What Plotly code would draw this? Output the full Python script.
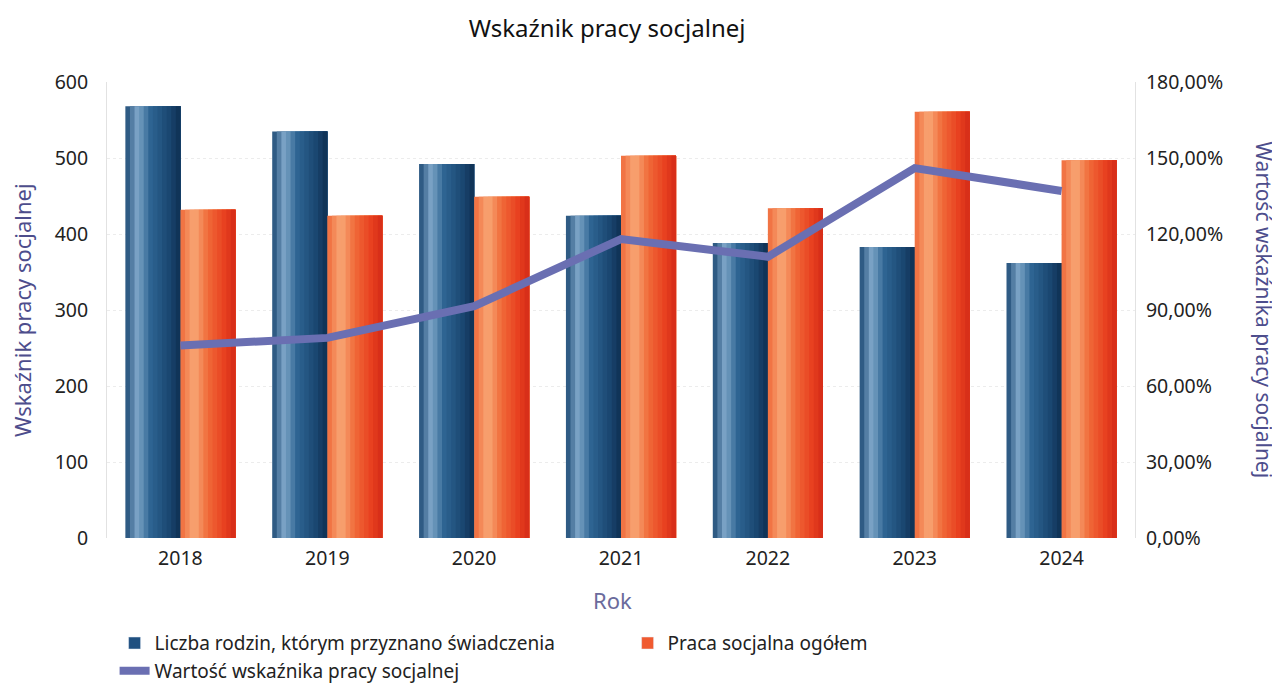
import plotly.graph_objects as go

years = ["2018", "2019", "2020", "2021", "2022", "2023", "2024"]
families = [568, 535, 492, 424, 388, 383, 362]
social_work = [432, 424, 449, 503, 434, 561, 497]
indicator = [0.76, 0.79, 0.915, 1.18, 1.11, 1.46, 1.37]

name_families = "Liczba rodzin, którym przyznano świadczenia"
name_work = "Praca socjalna ogółem"
name_indicator = "Wartość wskaźnika pracy socjalnej"

FONT = "Noto Sans"
N_STRIPS = 12
BAR_W = 0.375
TITLE_COLOR = "#4d4d8c"


def hex_to_rgb(h):
    h = h.lstrip("#")
    return [int(h[i:i + 2], 16) for i in (0, 2, 4)]


def gradient(stops, n):
    # stops: list of (position 0..1, hex colour)
    out = []
    for i in range(n):
        t = (i + 0.5) / n
        for (p0, c0), (p1, c1) in zip(stops[:-1], stops[1:]):
            if p0 <= t <= p1:
                f = (t - p0) / (p1 - p0) if p1 > p0 else 0
                a, b = hex_to_rgb(c0), hex_to_rgb(c1)
                rgb = [round(a[k] + (b[k] - a[k]) * f) for k in range(3)]
                out.append("rgb(%d,%d,%d)" % tuple(rgb))
                break
    return out


blue_stops = [(0, "#1d4a74"), (0.22, "#7ea6c8"), (0.45, "#2e6593"),
              (0.8, "#1a4670"), (1, "#0e2f52")]
orange_stops = [(0, "#f06a3a"), (0.25, "#f8a877"), (0.5, "#f06a38"),
                (0.8, "#e8401f"), (1, "#d42b18")]

fig = go.Figure()


def add_cylinder(values, stops, start, name, legend_color):
    # layered strips: each one runs to the right edge, later ones on top
    cols = gradient(stops, N_STRIPS)
    w = BAR_W / N_STRIPS
    for i, c in enumerate(cols):
        fig.add_trace(go.Bar(
            x=years, y=values, offset=start + i * w, width=BAR_W - i * w,
            marker=dict(color=c, line=dict(width=0)),
            showlegend=False, legendgroup=name, hoverinfo="skip",
        ))
    fig.add_trace(go.Bar(
        x=[None], y=[None], name=name, legendgroup=name,
        marker=dict(color=legend_color),
    ))


add_cylinder(families, blue_stops, -BAR_W, name_families, "#1f5080")
add_cylinder(social_work, orange_stops, 0, name_work, "#f05a30")

fig.add_trace(go.Scatter(
    x=years, y=indicator, name=name_indicator, yaxis="y2",
    mode="lines", line=dict(color="#6a6fb2", width=8),
))

# page body adds an 8px margin, so the figure is drawn 8px smaller
fig.update_layout(
    width=1272, height=676,
    barmode="overlay",
    separators=", ",
    paper_bgcolor="white", plot_bgcolor="white",
    font=dict(family=FONT, size=19.5, color="#222222"),
    margin=dict(l=99, r=145, t=74, b=146, autoexpand=False),
    title=dict(text="Wskaźnik pracy socjalnej", x=0.471, xanchor="center",
               y=0.970, yanchor="middle", font=dict(size=24, color="#111111")),
    xaxis=dict(
        type="category", showgrid=False, showline=False, ticks="",
        ticklabelstandoff=6,
    ),
    yaxis=dict(
        range=[0, 600], dtick=100, showgrid=True, gridcolor="#ececec",
        griddash="dot", zeroline=False, showline=True, linecolor="#e2e2e2",
        ticklabelstandoff=14,
    ),
    yaxis2=dict(
        range=[0, 1.8], dtick=0.3, tickformat=".2%", overlaying="y",
        side="right", showgrid=False, zeroline=False, showline=True,
        linecolor="#e2e2e2", ticklabelstandoff=6,
    ),
    legend=dict(
        orientation="h", xref="container", yref="container",
        x=0.0838, y=0.0885, xanchor="left", yanchor="top",
        entrywidth=468, entrywidthmode="pixels",
        font=dict(size=19), traceorder="normal", tracegroupgap=0,
        itemwidth=30,
    ),
    annotations=[
        dict(text="Wskaźnik pracy socjalnej", textangle=-90,
             xref="paper", yref="paper", x=-0.0826, y=0.5,
             xanchor="center", yanchor="middle", showarrow=False,
             font=dict(size=22, color=TITLE_COLOR)),
        dict(text="Wartość wskaźnika pracy socjalnej", textangle=90,
             xref="paper", yref="paper", x=1.125, y=0.5,
             xanchor="center", yanchor="middle", showarrow=False,
             font=dict(size=21, color=TITLE_COLOR)),
        dict(text="Rok", xref="paper", yref="paper", x=0.492, y=-0.136,
             xanchor="center", yanchor="middle", showarrow=False,
             font=dict(size=22, color="#6b6b9c")),
    ],
    showlegend=True,
)

fig.write_html("out.html")
